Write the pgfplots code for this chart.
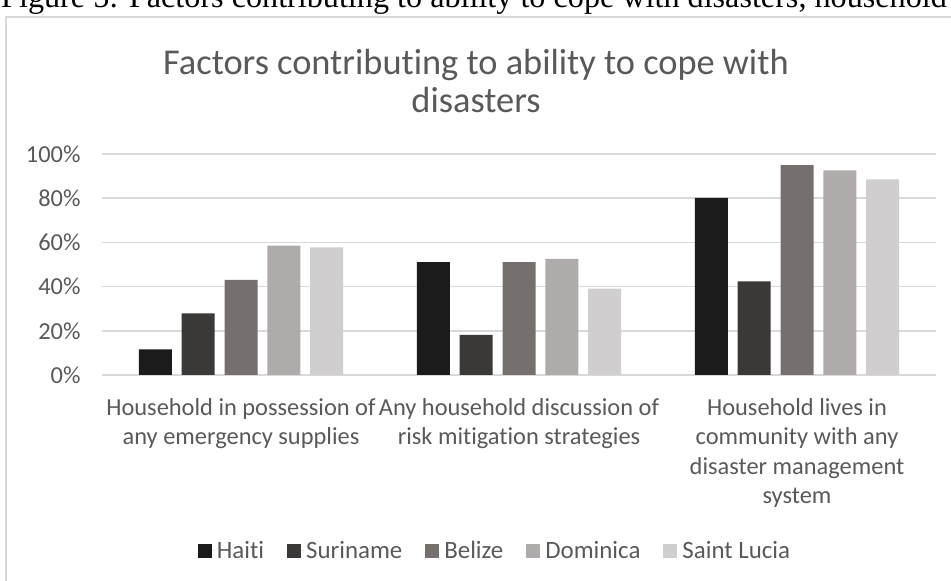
\documentclass[border=0pt]{standalone}
\usepackage{pgfplots}
\pgfplotsset{compat=1.18}
\usepackage{fontspec}
\setmainfont{Carlito}[RawFeature={-liga;-clig;-dlig}]
\newfontfamily\capfont{Liberation Serif}

\definecolor{txt}{HTML}{595959}
\definecolor{gridc}{HTML}{D9D9D9}
\definecolor{cHaiti}{HTML}{1B1B1B}
\definecolor{cSuri}{HTML}{3B3937}
\definecolor{cBelize}{HTML}{75706E}
\definecolor{cDomin}{HTML}{AFABAA}
\definecolor{cLucia}{HTML}{D0CECF}

\begin{document}
\begin{tikzpicture}[x=1bp,y=1bp]
\clip (0,0) rectangle (951,581);
% caption line of the surrounding report
\node[anchor=base west, inner sep=0pt, font=\capfont\fontsize{32.3}{36}\selectfont] at (1,573) {Figure 5: Factors contributing to ability to cope with disasters, household};
% chart area border
\draw[gridc, line width=1.5bp] (6,-20) -- (6,564) -- (980,564);
% chart title
\node[align=center, text=txt, font=\fontsize{36.5}{39}\selectfont] at (476,500) {Factors contributing to ability to cope with\\disasters};
\begin{axis}[
  at={(102bp,206bp)}, anchor=south west,
  scale only axis, width=834bp, height=221bp,
  xmin=-0.5, xmax=2.5, ymin=0, ymax=100,
  ybar=9.8bp, bar width=33bp,
  axis line style={draw=none},
  tick style={draw=none},
  xtick={0,1,2},
  xticklabels={Household in possession of\\any emergency supplies,
               Any household discussion of\\risk mitigation strategies,
               Household lives in\\community with any\\disaster management\\system},
  xticklabel style={align=center, text=txt, font=\fontsize{24.5}{29.3}\selectfont, yshift=-16bp},
  ytick={0,20,40,60,80,100},
  yticklabels={0\%,20\%,40\%,60\%,80\%,100\%},
  yticklabel style={text=txt, font=\fontsize{24.5}{30}\selectfont, xshift=-18bp},
  ymajorgrids, grid style={color=gridc, line width=1.6bp},
  legend style={at={(393bp,-178bp)}, anchor=center, draw=none, fill=none,
    legend columns=5, font=\fontsize{25}{30}\selectfont, text=txt,
    nodes={text height=0.7em, text depth=0.15em},
    /tikz/every even column/.append style={column sep=21bp}},
  legend image code/.code={\fill[#1] (0bp,-2bp) rectangle (14bp,12bp); \path (0bp,5bp) -- (17bp,5bp);},
]
\addplot[fill=cHaiti, draw=none] coordinates {(0,11.6) (1,51.1) (2,80.1)};
\addplot[fill=cSuri, draw=none] coordinates {(0,27.9) (1,18.1) (2,42.4)};
\addplot[fill=cBelize, draw=none] coordinates {(0,43.0) (1,51.1) (2,95.0)};
\addplot[fill=cDomin, draw=none] coordinates {(0,58.5) (1,52.5) (2,92.6)};
\addplot[fill=cLucia, draw=none] coordinates {(0,57.8) (1,39.1) (2,88.5)};
\legend{Haiti,Suriname,Belize,Dominica,Saint Lucia}
\end{axis}
\end{tikzpicture}
\end{document}
